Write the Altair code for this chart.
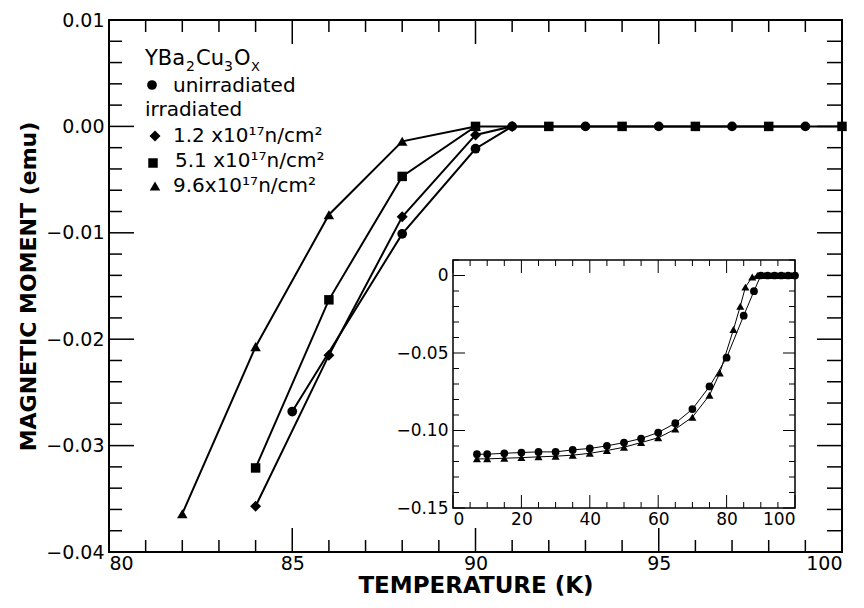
import altair as alt
import pandas as pd

# ---------------- main panel data (T in K, moment in emu) ----------------
unirr_T = [85, 88, 90, 91, 93, 95, 97, 99]
unirr_M = [-0.0268, -0.0101, -0.0021, 0.0, 0.0, 0.0, 0.0, 0.0]
d12_T = [84, 86, 88, 90, 91]
d12_M = [-0.0357, -0.0215, -0.0085, -0.0008, 0.0]
d51_T = [84, 86, 88, 90, 92, 94, 96, 98, 100]
d51_M = [-0.0321, -0.0163, -0.0047, 0.0, 0.0, 0.0, 0.0, 0.0, 0.0]
d96_T = [82, 84, 86, 88, 90]
d96_M = [-0.0364, -0.0207, -0.0083, -0.0014, 0.0]

series_names = ["unirradiated", "1.2", "5.1", "9.6"]
series_shapes = ["circle", "diamond", "square", "triangle-up"]
series_sizes = [95, 120, 90, 110]

main_x_labels = [80, 85, 90, 95, 100]
main_x_minor = [81, 82, 83, 84, 86, 87, 88, 89, 91, 92, 93, 94, 96, 97, 98, 99]
main_y_labels = [-0.04, -0.03, -0.02, -0.01, 0.0, 0.01]
main_y_minor = [-0.038, -0.036, -0.034, -0.032, -0.028, -0.026, -0.024, -0.022,
                -0.018, -0.016, -0.014, -0.012, -0.008, -0.006, -0.004, -0.002,
                0.002, 0.004, 0.006, 0.008]

# ---------------- inset data ----------------
in_circ_T = [7, 10, 15, 20, 25, 30, 35, 40, 45, 50, 55, 60, 65, 70, 75, 80, 85, 88,
             90, 92, 94, 96, 98, 100]
in_circ_M = [-0.1153, -0.1153, -0.1147, -0.1142, -0.1138, -0.1138, -0.1125, -0.1116,
             -0.1099, -0.1078, -0.1052, -0.1013, -0.0953, -0.0862, -0.0716, -0.0530,
             -0.0259, -0.0101, 0.0, 0.0, 0.0, 0.0, 0.0, 0.0]
in_tri_T = [7, 10, 15, 20, 25, 30, 35, 40, 45, 50, 55, 60, 65, 70, 75, 78, 82, 84,
            85.5, 87.5, 89, 91, 93, 95, 97, 99]
in_tri_M = [-0.1183, -0.1183, -0.1179, -0.1175, -0.1170, -0.1166, -0.1159, -0.1147,
            -0.1129, -0.1108, -0.1078, -0.1047, -0.0991, -0.0914, -0.0772, -0.0629,
            -0.0349, -0.0198, -0.0075, -0.0009, 0.0, 0.0, 0.0, 0.0, 0.0, 0.0]

in_x_labels = [0, 20, 40, 60, 80, 100]
in_x_minor = [5, 10, 15, 25, 30, 35, 45, 50, 55, 65, 70, 75, 85, 90, 95]
in_y_labels = [-0.15, -0.10, -0.05, 0.0]
in_y_minor = [-0.14, -0.13, -0.12, -0.11, -0.09, -0.08, -0.07, -0.06,
              -0.04, -0.03, -0.02, -0.01, 0.01]
in_x_domain = [0, 100]
in_y_domain = [-0.15, 0.01]

# ---------------- layout constants ----------------
W, H = 733, 532
IN_L, IN_R, IN_T, IN_B = 344, 686, 240, 488
FONT = "DejaVu Sans"

xs = alt.Scale(domain=[80, 100], nice=False, zero=False)
ys = alt.Scale(domain=[-0.04, 0.01], nice=False, zero=False)
xi = alt.Scale(domain=in_x_domain, range=[IN_L, IN_R], nice=False, zero=False)
yi = alt.Scale(domain=in_y_domain, range=[IN_B, IN_T], nice=False, zero=False)

x_axis = alt.Axis(orient="bottom", values=main_x_labels, format="d", ticks=False, domain=False,
                  grid=False, labelFontSize=19, labelPadding=2, title="TEMPERATURE (K)",
                  titleFontSize=23, titleFontWeight="bold", titlePadding=1)
y_axis = alt.Axis(orient="left", values=main_y_labels, format=".2f", ticks=False, domain=False,
                  grid=False, labelFontSize=19, labelPadding=5, title="MAGNETIC MOMENT (emu)",
                  titleFontSize=22, titleFontWeight="bold", titlePadding=5)

layers = []

# invisible carrier of the main axes
df_axes = pd.DataFrame({"T": [80, 100], "M": [-0.04, 0.01]})
layers.append(alt.Chart(df_axes).mark_point(opacity=0).encode(
    x=alt.X("T:Q", scale=xs, axis=x_axis), y=alt.Y("M:Q", scale=ys, axis=y_axis)))

for name, shape, size, Ts, Ms in zip(series_names, series_shapes, series_sizes,
                                     [unirr_T, d12_T, d51_T, d96_T],
                                     [unirr_M, d12_M, d51_M, d96_M]):
    df = pd.DataFrame({"T": Ts, "M": Ms})
    layers.append(alt.Chart(df).mark_line(color="black", strokeWidth=2).encode(
        x=alt.X("T:Q", scale=xs, axis=None), y=alt.Y("M:Q", scale=ys, axis=None)))
    layers.append(alt.Chart(df).mark_point(filled=True, color="black", opacity=1).encode(
        x=alt.X("T:Q", scale=xs, axis=None), y=alt.Y("M:Q", scale=ys, axis=None),
        shape=alt.value(shape), size=alt.value(size)))


def xticks(vals, field, scale, y0, y1, sw):
    return alt.Chart(pd.DataFrame({field: vals})).mark_rule(color="black", strokeWidth=sw).encode(
        x=alt.X(f"{field}:Q", scale=scale, axis=None), y=alt.value(y0), y2=alt.value(y1))


def yticks(vals, field, scale, x0, x1, sw):
    return alt.Chart(pd.DataFrame({field: vals})).mark_rule(color="black", strokeWidth=sw).encode(
        y=alt.Y(f"{field}:Q", scale=scale, axis=None), x=alt.value(x0), x2=alt.value(x1))


layers += [
    xticks(main_x_minor, "T", xs, H, H - 12, 1.5),
    xticks(main_x_labels, "T", xs, H, H - 24, 1.5),
    xticks(main_x_minor, "T", xs, 0, 12, 1.5),
    xticks(main_x_labels, "T", xs, 0, 24, 1.5),
    yticks(main_y_minor, "M", ys, 0, 13, 1.5),
    yticks(main_y_labels, "M", ys, 0, 25, 1.5),
    yticks(main_y_minor, "M", ys, W, W - 15, 1.5),
    yticks(main_y_labels, "M", ys, W, W - 25, 1.5),
]


# legend (text block inside the plot)
def ltext(txt, x, y, size=20):
    return alt.Chart(pd.DataFrame({"t": [txt]})).mark_text(
        align="left", baseline="alphabetic", font=FONT, fontSize=size, color="black"
    ).encode(text="t:N", x=alt.value(x), y=alt.value(y))


def lmark(shape, size, x, y):
    return alt.Chart(pd.DataFrame({"t": [0]})).mark_point(filled=True, color="black", opacity=1).encode(
        x=alt.value(x), y=alt.value(y), shape=alt.value(shape), size=alt.value(size))


layers += [
    ltext("YBa", 36, 45, 21), ltext("2", 77, 51, 14), ltext("Cu", 87, 45, 21),
    ltext("3", 115, 51, 14), ltext("O", 125, 45, 21), ltext("X", 142, 51, 13),
    lmark("circle", 95, 43, 65), ltext("unirradiated", 64, 72),
    ltext("irradiated", 36, 96),
    lmark("diamond", 120, 46, 116), ltext("1.2 x10¹⁷n/cm²", 64, 122),
    lmark("square", 90, 44, 143), ltext("5.1 x10¹⁷n/cm²", 66, 147),
    lmark("triangle-up", 110, 46, 166), ltext("9.6x10¹⁷n/cm²", 64, 172),
]

# ---------------- inset ----------------
layers.append(alt.Chart(pd.DataFrame({"Ti": [in_x_domain[0]], "Ti2": [in_x_domain[1]],
                                      "Mi": [in_y_domain[0]], "Mi2": [in_y_domain[1]]})).mark_rect(
    fill="white", stroke="black", strokeWidth=1.5).encode(
    x=alt.X("Ti:Q", scale=xi, axis=None), x2="Ti2:Q",
    y=alt.Y("Mi:Q", scale=yi, axis=None), y2="Mi2:Q"))

in_x_axis = alt.Axis(orient="bottom", offset=IN_B - H, values=in_x_labels, format="d", ticks=False,
                     domain=False, grid=False, labelFontSize=17, labelPadding=3, title=None)
in_y_axis = alt.Axis(orient="left", offset=-IN_L, values=in_y_labels, ticks=False, domain=False,
                     grid=False, labelFontSize=17, labelPadding=5, title=None,
                     labelExpr="datum.value == 0 ? '0' : format(datum.value, '.2f')")

df_in_axes = pd.DataFrame({"Ti": in_x_domain, "Mi": in_y_domain})
layers.append(alt.Chart(df_in_axes).mark_point(opacity=0).encode(
    x=alt.X("Ti:Q", scale=xi, axis=in_x_axis), y=alt.Y("Mi:Q", scale=yi, axis=in_y_axis)))

for shape, size, Ts, Ms in [("circle", 60, in_circ_T, in_circ_M), ("triangle-up", 65, in_tri_T, in_tri_M)]:
    df = pd.DataFrame({"Ti": Ts, "Mi": Ms})
    layers.append(alt.Chart(df).mark_line(color="black", strokeWidth=1).encode(
        x=alt.X("Ti:Q", scale=xi, axis=None), y=alt.Y("Mi:Q", scale=yi, axis=None)))
    layers.append(alt.Chart(df).mark_point(filled=True, color="black", opacity=1).encode(
        x=alt.X("Ti:Q", scale=xi, axis=None), y=alt.Y("Mi:Q", scale=yi, axis=None),
        shape=alt.value(shape), size=alt.value(size)))

layers += [
    xticks(in_x_minor, "Ti", xi, IN_B, IN_B - 6, 1),
    xticks(in_x_labels, "Ti", xi, IN_B, IN_B - 13, 1),
    xticks(in_x_minor, "Ti", xi, IN_T, IN_T + 6, 1),
    xticks(in_x_labels, "Ti", xi, IN_T, IN_T + 13, 1),
    yticks(in_y_minor, "Mi", yi, IN_L, IN_L + 6, 1),
    yticks(in_y_labels, "Mi", yi, IN_L, IN_L + 12, 1),
    yticks(in_y_minor, "Mi", yi, IN_R, IN_R - 6, 1),
    yticks(in_y_labels, "Mi", yi, IN_R, IN_R - 12, 1),
]

chart = alt.layer(*layers).resolve_scale(x="independent", y="independent").properties(
    width=W, height=H, autosize=alt.AutoSizeParams(type="none"),
    padding={"left": 101, "top": 12, "right": 14, "bottom": 48},
).configure_view(stroke="black", strokeWidth=2).configure_axis(
    labelFont=FONT, titleFont=FONT, labelColor="black", titleColor="black")

chart.save("out.html", embed_options={"renderer": "svg", "actions": False})
